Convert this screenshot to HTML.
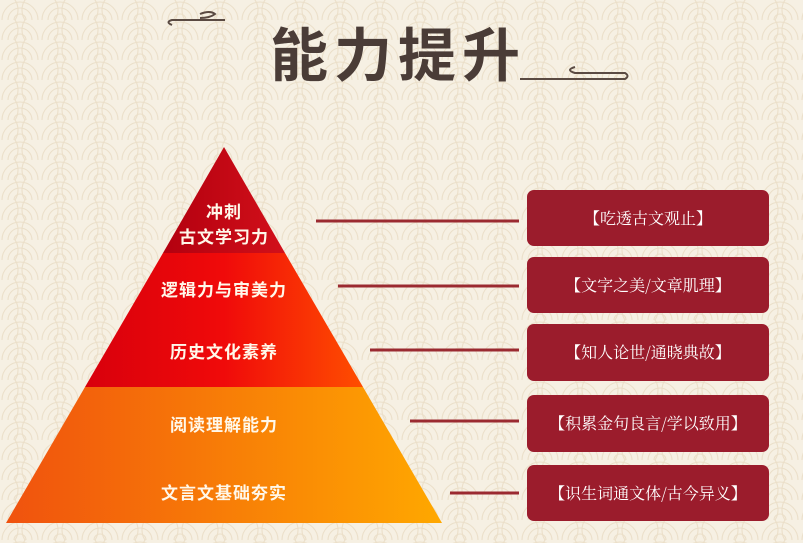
<!DOCTYPE html>
<html><head><meta charset="utf-8">
<style>
body{margin:0;width:803px;height:543px;overflow:hidden;background:#f6f0e3;font-family:"Liberation Sans","Noto Sans CJK SC",sans-serif;}
svg{position:absolute;left:0;top:0}
</style></head><body>
<svg width="803" height="543">
<defs>
<pattern id="wave" width="40" height="20" patternUnits="userSpaceOnUse">
<g fill="none" stroke="#ebdfc9" stroke-width="1.1">
<circle cx="20" cy="20" r="18"/><circle cx="20" cy="20" r="12"/><circle cx="20" cy="20" r="6"/>
<circle cx="0" cy="10" r="18"/><circle cx="40" cy="10" r="18"/>
</g></pattern>
<linearGradient id="g1" x1="0" y1="0" x2="1" y2="0"><stop offset="0" stop-color="#b3000f"/><stop offset="1" stop-color="#d2101a"/></linearGradient>
<linearGradient id="g2" x1="0" y1="0" x2="1" y2="0"><stop offset="0" stop-color="#d8000c"/><stop offset="0.5" stop-color="#f00a0a"/><stop offset="1" stop-color="#ff4e00"/></linearGradient>
<linearGradient id="g3" x1="0" y1="0" x2="1" y2="0"><stop offset="0" stop-color="#f0520e"/><stop offset="1" stop-color="#ffa800"/></linearGradient>
</defs>
<rect width="803" height="543" fill="url(#wave)"/>
<g fill="none" stroke="#5a4a42" stroke-width="2">
<path d="M172 25 Q165 22 172 20 L225 20 M200 14 Q210 10 215 14 Q210 18 200 18"/>
<path d="M520 79 L625 79 Q630 76 625 73 L575 73 Q565 70 575 67"/>
</g>
<text x="398" y="76" text-anchor="middle" font-family="'Noto Sans CJK SC',sans-serif" font-weight="bold" font-size="58" fill="#4a3c37" letter-spacing="6">能力提升</text>
<g>
<polygon points="224,147 285,253 163,253" fill="url(#g1)"/>
<polygon points="163,253 285,253 363,387 85,387" fill="url(#g2)"/>
<polygon points="85,387 363,387 442,523 6,523" fill="url(#g3)"/>
</g>
<g fill="#fff8ea" font-size="17" font-weight="bold" text-anchor="middle" letter-spacing="1">
<text x="224" y="218">冲刺</text>
<text x="224" y="243">古文学习力</text>
<text x="224" y="296">逻辑力与审美力</text>
<text x="224" y="358">历史文化素养</text>
<text x="224" y="431">阅读理解能力</text>
<text x="224" y="499">文言文基础夯实</text>
</g>
<g stroke="#9b2a30" stroke-width="3">
<line x1="316" y1="221" x2="519" y2="221"/>
<line x1="338" y1="286" x2="519" y2="286"/>
<line x1="370" y1="350" x2="519" y2="350"/>
<line x1="410" y1="421" x2="519" y2="421"/>
<line x1="450" y1="493" x2="519" y2="493"/>
</g>
<g fill="#9b1c2c">
<rect x="527" y="190" width="242" height="56" rx="7"/>
<rect x="527" y="257" width="242" height="56" rx="7"/>
<rect x="527" y="324" width="242" height="57" rx="7"/>
<rect x="527" y="395" width="242" height="57" rx="7"/>
<rect x="527" y="465" width="242" height="56" rx="7"/>
</g>
<g fill="#fff" font-size="16" text-anchor="middle" font-family="'Noto Serif CJK SC',serif">
<text x="648" y="224">【吃透古文观止】</text>
<text x="648" y="291">【文字之美/文章肌理】</text>
<text x="648" y="358">【知人论世/通晓典故】</text>
<text x="648" y="429">【积累金句良言/学以致用】</text>
<text x="648" y="499">【识生词通文体/古今异义】</text>
</g>
</svg>
</body></html>
